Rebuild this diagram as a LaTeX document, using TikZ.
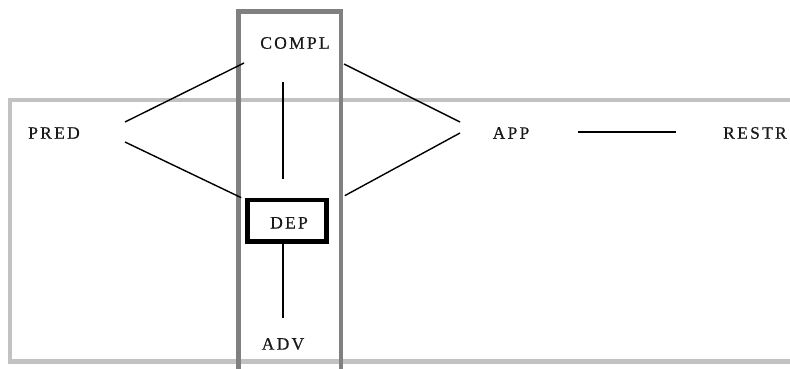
\documentclass[tikz,border=0pt]{standalone}
\usepackage{fontspec}
\setmainfont{Liberation Serif}
\newfontfamily\labelfont[LetterSpace=13,FakeBold=0.5]{Liberation Serif}
\definecolor{framedark}{gray}{0.5}
\definecolor{framelight}{gray}{0.76}
\definecolor{inktext}{gray}{0.1}
\begin{document}
\begin{tikzpicture}[x=1pt,y=-1pt,
  lbl/.style={inner sep=0pt, text=inktext, font=\labelfont\fontsize{17.5}{19}\selectfont},
  link/.style={draw=black, line width=1.4pt},
  darkframe/.style={draw=framedark, line width=4.5pt},
  lightframe/.style={draw=framelight, line width=4.5pt},
  depbox/.style={draw=black, line width=4.6pt, minimum width=79pt, minimum height=41.7pt, inner sep=0pt}]
\useasboundingbox (0,0) rectangle (790,368);
\clip (0,0) rectangle (790,368);
\fill[white] (0,0) rectangle (790,368);

% enclosing frames
\draw[lightframe] (10,100) rectangle (820,361.5);
\draw[darkframe] (238.5,11.5) rectangle (341,400);

% category labels
\node[lbl] (pred)  at (54,133)  {PRED};
\node[lbl] (compl) at (295,43)  {COMPL};
\node[lbl] (app)   at (511,133) {APP};
\node[lbl] (restr) at (755,133) {RESTR};
\node[lbl] (adv)   at (283,344) {ADV};
\node[depbox] (dep) at (287,220.8) {};
\node[lbl] at ([shift={(2,2)}]dep.center) {DEP};

% connections
\draw[link] ([shift={(71,-11)}]pred.center) -- ([shift={(-51,20)}]compl.center);
\draw[link] ([shift={(71,9)}]pred.center) -- ([shift={(-4,0)}]dep.north west);
\draw[link] ([shift={(-12,39)}]compl.center) -- ([shift={(-4,-19)}]dep.north);
\draw[link] ([shift={(49,21)}]compl.center) -- ([shift={(-51,-11)}]app.center);
\draw[link] ([shift={(-51,0)}]app.center) -- ([shift={(16,-2)}]dep.north east);
\draw[link] ([shift={(67,-1)}]app.center) -- ([shift={(-79,-1)}]restr.center);
\draw[link] ([shift={(-4,0)}]dep.south) -- ([shift={(0,-26)}]adv.center);
\end{tikzpicture}
\end{document}
